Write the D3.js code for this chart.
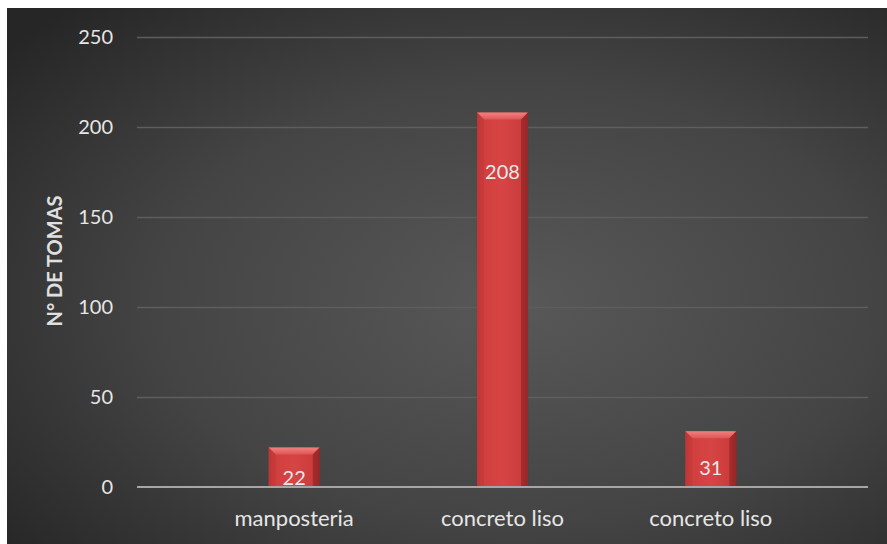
<!DOCTYPE html>
<html>
<head>
<meta charset="utf-8">
<script src="https://cdn.jsdelivr.net/npm/d3@7/dist/d3.min.js"></script>
<style>
  html, body { margin: 0; padding: 0; background: #ffffff; }
  svg { display: block; }
</style>
</head>
<body>
<svg id="chart" width="887" height="544"></svg>
<script>
// Number of intakes per wall type
const categories = ["manposteria", "concreto liso", "concreto liso"];
const values = [22, 208, 31];
const yTicks = [0, 50, 100, 150, 200, 250];
const yTitle = "N° DE TOMAS";

const W = 887, H = 544;
const svg = d3.select("#chart");
const defs = svg.append("defs");

// Dark panel with a soft radial light in the middle
const bg = defs.append("radialGradient").attr("id", "bgGrad")
  .attr("cx", "58%").attr("cy", "55%").attr("r", "75%");
bg.append("stop").attr("offset", "0%").attr("stop-color", "#585858");
bg.append("stop").attr("offset", "55%").attr("stop-color", "#444444");
bg.append("stop").attr("offset", "100%").attr("stop-color", "#262626");

// Bar face: horizontal shading (dark edges, bright body)
const barGrad = defs.append("linearGradient").attr("id", "barGrad")
  .attr("x1", "0%").attr("x2", "100%").attr("y1", "0%").attr("y2", "0%");
barGrad.append("stop").attr("offset", "0%").attr("stop-color", "#b83232");
barGrad.append("stop").attr("offset", "10%").attr("stop-color", "#d03e3e");
barGrad.append("stop").attr("offset", "50%").attr("stop-color", "#d64444");
barGrad.append("stop").attr("offset", "88%").attr("stop-color", "#cc3c3c");
barGrad.append("stop").attr("offset", "100%").attr("stop-color", "#8e2626");

const bevelTop = defs.append("linearGradient").attr("id", "bevelTop")
  .attr("x1", "0").attr("x2", "0").attr("y1", "0").attr("y2", "1");
bevelTop.append("stop").attr("offset", "0%").attr("stop-color", "#f08080");
bevelTop.append("stop").attr("offset", "100%").attr("stop-color", "#e05656");

svg.append("rect").attr("x", 7).attr("y", 8).attr("width", W - 7).attr("height", H - 8)
  .attr("fill", "url(#bgGrad)");

const plot = { left: 137, right: 868, top: 37, bottom: 487 };

const y = d3.scaleLinear().domain([0, 250]).range([plot.bottom, plot.top]);
const x = d3.scaleBand().domain(d3.range(categories.length))
  .range([190, 815]).paddingInner(0.755).paddingOuter(0.3775);

const font = "Lato, 'Open Sans', sans-serif";

// Gridlines + tick labels
const yAxis = d3.axisLeft(y).tickValues(yTicks).tickSize(-(plot.right - plot.left)).tickPadding(24);
const gy = svg.append("g").attr("transform", `translate(${plot.left},0)`).call(yAxis);
gy.select(".domain").remove();
gy.selectAll(".tick line").attr("stroke", "#5e5e5e").attr("stroke-width", 1.3);
gy.selectAll(".tick text").attr("fill", "#e6e6e6").attr("font-size", 20)
  .attr("font-family", font);
gy.selectAll(".tick").filter(d => d === 0).select("line").attr("stroke", "none");

// Bars
const bars = svg.append("g").selectAll("g.bar").data(values).enter().append("g").attr("class", "bar");
const bevel = 7;
bars.append("rect")
  .attr("x", (d, i) => x(i))
  .attr("y", d => y(d))
  .attr("width", x.bandwidth())
  .attr("height", d => y(0) - y(d))
  .attr("fill", "url(#barGrad)");
// top bevel
bars.append("path")
  .attr("d", (d, i) => {
    const x0 = x(i), x1 = x(i) + x.bandwidth(), t = y(d);
    return `M${x0},${t}L${x1},${t}L${x1 - bevel},${t + bevel}L${x0 + bevel},${t + bevel}Z`;
  })
  .attr("fill", "url(#bevelTop)");
// left bevel
bars.append("path")
  .attr("d", (d, i) => {
    const x0 = x(i), t = y(d), b = y(0);
    return `M${x0},${t}L${x0 + bevel},${t + bevel}L${x0 + bevel},${b}L${x0},${b}Z`;
  })
  .attr("fill", "#c23838").attr("opacity", 0.6);
// right bevel
bars.append("path")
  .attr("d", (d, i) => {
    const x1 = x(i) + x.bandwidth(), t = y(d), b = y(0);
    return `M${x1},${t}L${x1 - bevel},${t + bevel}L${x1 - bevel},${b}L${x1},${b}Z`;
  })
  .attr("fill", "#992828").attr("opacity", 0.8);

// Baseline
svg.append("line").attr("x1", plot.left).attr("x2", plot.right)
  .attr("y1", y(0)).attr("y2", y(0))
  .attr("stroke", "#a6a6a6").attr("stroke-width", 2);

// Value labels inside the bars
const labelDrop = [38, 66, 44];
svg.append("g").selectAll("text").data(values).enter().append("text")
  .attr("x", (d, i) => x(i) + x.bandwidth() / 2)
  .attr("y", (d, i) => y(d) + labelDrop[i])
  .attr("text-anchor", "middle")
  .attr("fill", "#e8e8e8").attr("font-size", 20).attr("font-family", font)
  .text(d => d);

// Category labels
svg.append("g").selectAll("text").data(categories).enter().append("text")
  .attr("x", (d, i) => x(i) + x.bandwidth() / 2)
  .attr("y", 526)
  .attr("text-anchor", "middle")
  .attr("fill", "#e6e6e6").attr("font-size", 22).attr("font-family", font)
  .text(d => d);

// Axis title
svg.append("text")
  .attr("transform", `translate(62,261) rotate(-90)`)
  .attr("text-anchor", "middle")
  .attr("fill", "#e0e0e0").attr("font-size", 20).attr("font-weight", "bold")
  .attr("font-family", font)
  .text(yTitle);
</script>
</body>
</html>
